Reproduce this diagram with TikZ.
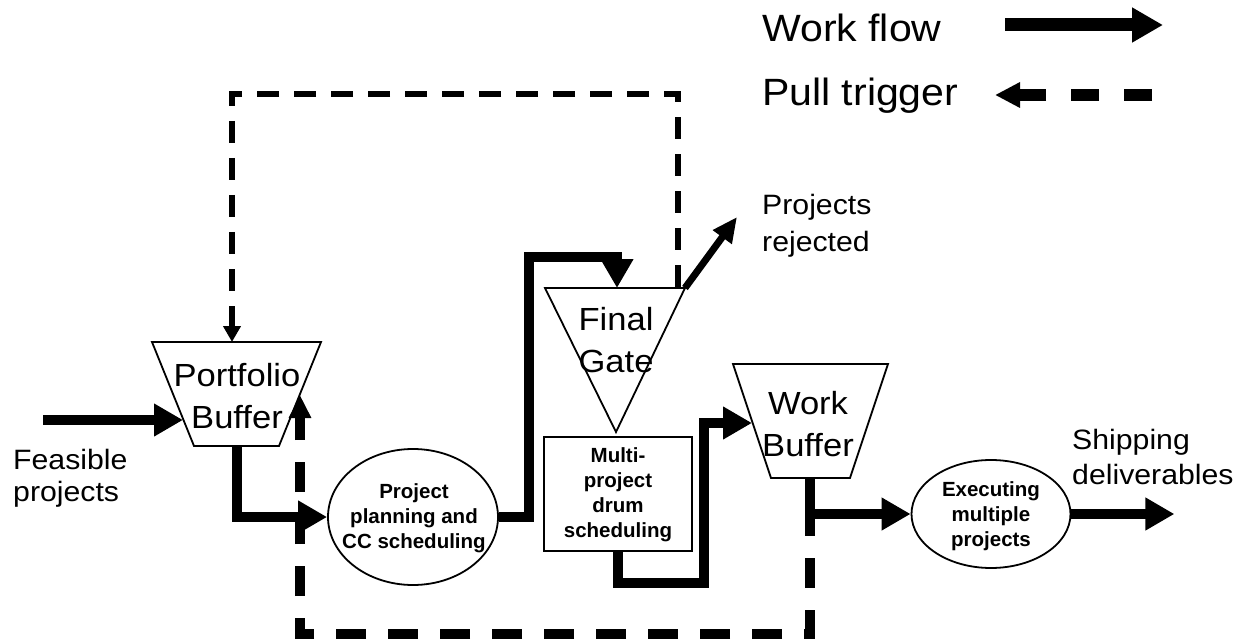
\documentclass[tikz,border=0pt]{standalone}
\usepackage{fontspec}
\setmainfont{Liberation Sans}[FakeStretch=1.08]
\newfontfamily\boldfam{Liberation Sans}
\usetikzlibrary{arrows.meta,shapes.geometric}
\begin{document}
\begin{tikzpicture}[x=1pt,y=-1pt,
  outline/.style={line width=1.8pt, line join=miter},
  flow/.style={line width=10.5pt, line join=miter, -{Triangle[length=29pt,width=31pt]}},
  rejarrow/.style={line width=7pt, -{Triangle[length=25pt,width=22pt]}},
  pullthin/.style={line width=6pt, dash pattern=on 22pt off 15pt, -{Triangle[length=16pt,width=17pt]}},
  pullthick/.style={line width=9.5pt, dash pattern=on 30pt off 22pt, dash phase=24pt, -{Triangle[length=23pt,width=21pt]}},
  legflow/.style={line width=13pt, -{Triangle[length=31pt,width=33pt]}},
  legpull/.style={line width=12pt, dash pattern=on 28pt off 25pt, -{Triangle[length=25pt,width=24pt]}},
  lbl/.style={inner sep=0pt, align=left},
  bigtxt/.style={inner sep=0pt, align=center, font=\fontsize{32}{42}\selectfont},
  smalltxt/.style={inner sep=0pt, align=center, font=\boldfam\bfseries\fontsize{20.5}{25}\selectfont},
  legtxt/.style={inner sep=0pt, font=\fontsize{38}{46}\selectfont},
]
\useasboundingbox (0,0) rectangle (1253,639);

% ---------- Legend ----------
\node[legtxt, anchor=base west] (lwf) at (762,42) {Work flow};
\coordinate (lwfA) at (1005,25);
\coordinate (lwfB) at (1163,25);
\draw[legflow] (lwfA) -- (lwfB);
\node[legtxt, anchor=base west] (lpt) at (762,106) {Pull trigger};
\coordinate (lptA) at (1152,95);
\coordinate (lptB) at (995,95);
\draw[legpull] (lptA) -- (lptB);

% ---------- Portfolio Buffer ----------
\coordinate (pbTL) at (152,342);
\coordinate (pbTR) at (321,342);
\coordinate (pbBR) at (279,446);
\coordinate (pbBL) at (194,446);
\draw[outline] (pbTL) -- (pbTR) -- (pbBR) -- (pbBL) -- cycle;
\node[bigtxt] (pb) at (237,396) {Portfolio\\Buffer};
\coordinate (pbTop) at (232,342);
\coordinate (pbBot) at (237,446);
\coordinate (pbLeft) at (183,420);
\coordinate (pbRight) at (300,395);

% ---------- Final Gate ----------
\coordinate (fgL) at (545,288);
\coordinate (fgR) at (685,288);
\coordinate (fgB) at (616,432);
\draw[outline] (fgL) -- (fgR) -- (fgB) -- cycle;
\node[bigtxt] (fg) at (616,340) {Final\\Gate};
\coordinate (fgIn) at (617,288);
\coordinate (fgPull) at (678,287);

% ---------- Multi-project drum scheduling ----------
\node[outline, draw, inner sep=0pt, minimum width=148pt, minimum height=114pt] (md) at (618,494) {};
\node[smalltxt] (mdt) at (618,495) {Multi-\\project\\drum\\scheduling};

% ---------- Work Buffer ----------
\coordinate (wbTL) at (733,364);
\coordinate (wbTR) at (888,364);
\coordinate (wbBR) at (850,478);
\coordinate (wbBL) at (771,478);
\draw[outline] (wbTL) -- (wbTR) -- (wbBR) -- (wbBL) -- cycle;
\node[bigtxt] (wb) at (808,424) {Work\\Buffer};
\coordinate (wbIn) at (752,423);
\coordinate (wbBot) at (810,478);

% ---------- Ellipses ----------
\node[outline, draw, ellipse, inner sep=0pt, minimum width=170pt, minimum height=136pt] (pp) at (413,517) {};
\node[smalltxt] (ppt) at (414,518) {Project\\planning and\\CC scheduling};
\node[outline, draw, ellipse, inner sep=0pt, minimum width=159pt, minimum height=108pt] (ex) at (991,514) {};
\node[smalltxt] (ext) at (991,516) {Executing\\multiple\\projects};

% ---------- Labels ----------
\node[lbl, anchor=west, font=\fontsize{28}{32}\selectfont] (feas) at (13,478) {Feasible\\projects};
\node[lbl, anchor=west, font=\fontsize{28}{35}\selectfont] (ship) at (1072,457) {Shipping\\deliverables};
\node[lbl, anchor=west, font=\fontsize{28}{37}\selectfont] (rej) at (762,226) {Projects\\rejected};

% ---------- Pull triggers ----------
\draw[pullthin] (fgPull) -- ++(0,-193) -| (pbTop);
\draw[pullthick] (wbBot) -- ++(0,156) -| (pbRight);

% ---------- Work flow ----------
\coordinate (fstart) at (43,420);
\draw[flow] (fstart) -- (pbLeft);
\draw[flow] (pbBot) |- (pp.west);
\draw[flow] (pp.east) -- ++(30,0) -- ++(0,-260) -| (fgIn);
\draw[flow] (md.south) -- ++(0,31) -- ++(86,0) |- (wbIn);
\draw[flow] (wbBot) |- (ex.west);
\draw[flow] (ex.east) -- ++(103,0);
\draw[rejarrow] (fgR) -- ++(52,-71);
\end{tikzpicture}
\end{document}
